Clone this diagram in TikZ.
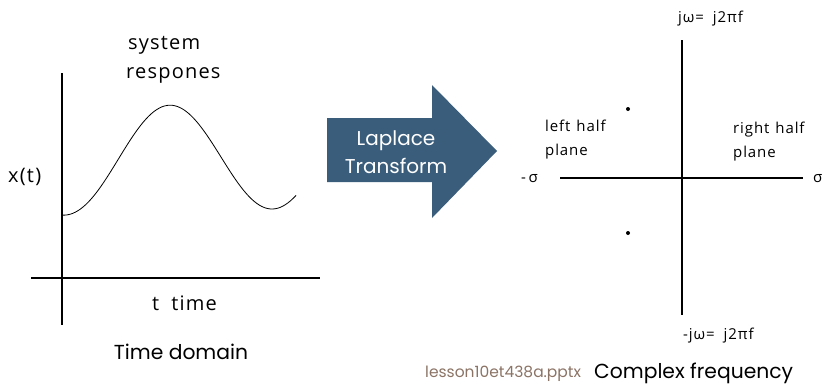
\documentclass[tikz,border=0pt]{standalone}
\usepackage{fontspec}
\setmainfont{Poppins}
\newfontfamily\plotfont{Open Sans}[LetterSpace=6]
\definecolor{arrowblue}{HTML}{3A5D7C}
\definecolor{notegray}{HTML}{8B7365}
\begin{document}
\begin{tikzpicture}[x=1pt,y=-1pt,
  axis/.style={line width=2.2pt},
  curve/.style={line width=0.8pt},
  biglbl/.style={font=\plotfont\fontsize{20}{22}\selectfont, inner sep=0pt, align=left},
  smalllbl/.style={font=\plotfont\fontsize{15}{24}\selectfont, inner sep=0pt, align=left},
  caption/.style={font=\fontsize{20.3}{24}\selectfont, inner sep=0pt},
  pole/.style={circle, fill=black, inner sep=0pt, minimum size=4pt}]
\useasboundingbox (0,0) rectangle (825,389);

% time-domain axes
\coordinate (ty0) at (62,73);
\coordinate (ty1) at (62,325);
\coordinate (tx0) at (31,278);
\coordinate (tx1) at (320,278);
\draw[axis] (ty0) -- (ty1);
\draw[axis] (tx0) -- (tx1);

% response curve: a cosine that starts a little lower at t = 0
\draw[curve, domain=62:296, samples=90, variable=\u]
  plot (\u, {157 - 52*cos((\u-170)*1.7647) + 7*exp(-(\u-62)/30)});

\node[biglbl, anchor=west] (sys) at (128,45) {system};
\node[biglbl, anchor=west] (resp) at (126,75) {respones};
\node[biglbl, anchor=west] (xt) at (8,177) {x(t)};
\node[biglbl, anchor=west] (tt) at (152,303) {t\hspace{0.6em}time};
\node[caption] (td) at (181,352) {Time domain};

% Laplace transform arrow
\coordinate (a1) at (327,118);
\coordinate (a2) at (432,118);
\coordinate (a3) at (432,85);
\coordinate (a4) at (497,151);
\coordinate (a5) at (432,218);
\coordinate (a6) at (432,182);
\coordinate (a7) at (327,182);
\fill[arrowblue] (a1) -- (a2) -- (a3) -- (a4) -- (a5) -- (a6) -- (a7) -- cycle;
\node[font=\fontsize{20}{28}\selectfont, text=white, align=center, inner sep=0pt] (lt) at (396,152) {Laplace\\Transform};

% s-plane axes
\coordinate (sy0) at (682,40);
\coordinate (sy1) at (682,315);
\coordinate (sx0) at (560,178);
\coordinate (sx1) at (803,178);
\draw[axis] (sy0) -- (sy1);
\draw[axis] (sx0) -- (sx1);

\node[smalllbl, anchor=west] (jw) at (678,19) {jω=\hspace{0.6em}j2πf};
\node[smalllbl, anchor=west] (mjw) at (683,336) {-jω=\hspace{0.6em}j2πf};
\node[smalllbl, anchor=west] (msig) at (521,179) {-\,σ};
\node[smalllbl, anchor=west] (sig) at (813,179) {σ};
\node[smalllbl, anchor=west] (lhp) at (545,140) {left\hspace{0.4em}half\\plane};
\node[smalllbl, anchor=west] (rhp) at (733,142) {right\hspace{0.4em}half\\plane};

\node[pole] (p1) at (628,109) {};
\node[pole] (p2) at (628,233) {};

% captions
\node[font=\fontsize{15.5}{17}\selectfont, text=notegray, inner sep=0pt, anchor=west] (file) at (425,374) {lesson10et438a.pptx};
\node[caption, anchor=west] (cf) at (594,373) {Complex frequency};
\end{tikzpicture}
\end{document}
